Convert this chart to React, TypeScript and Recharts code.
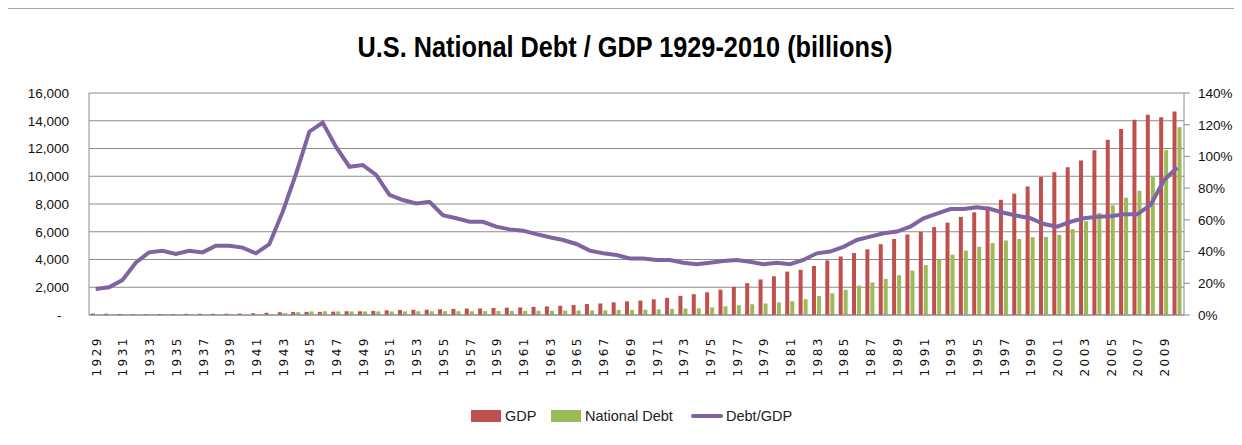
import React from "react";
import { ComposedChart, Bar, Line, XAxis, YAxis, CartesianGrid } from "recharts";

const years = [
  1929, 1930, 1931, 1932, 1933, 1934, 1935, 1936, 1937, 1938,
  1939, 1940, 1941, 1942, 1943, 1944, 1945, 1946, 1947, 1948,
  1949, 1950, 1951, 1952, 1953, 1954, 1955, 1956, 1957, 1958,
  1959, 1960, 1961, 1962, 1963, 1964, 1965, 1966, 1967, 1968,
  1969, 1970, 1971, 1972, 1973, 1974, 1975, 1976, 1977, 1978,
  1979, 1980, 1981, 1982, 1983, 1984, 1985, 1986, 1987, 1988,
  1989, 1990, 1991, 1992, 1993, 1994, 1995, 1996, 1997, 1998,
  1999, 2000, 2001, 2002, 2003, 2004, 2005, 2006, 2007, 2008,
  2009, 2010,
];

// billions
const gdp = [
  103.6, 91.2, 76.5, 58.7, 56.4, 66.0, 73.3, 83.8, 91.9, 86.1,
  92.2, 101.4, 126.7, 161.9, 198.6, 219.8, 223.0, 222.2, 244.1, 269.1,
  267.2, 293.7, 339.3, 358.3, 379.3, 380.4, 414.7, 437.4, 461.1, 467.2,
  506.6, 526.4, 544.7, 585.6, 617.7, 663.6, 719.1, 787.8, 832.6, 910.0,
  984.6, 1038.5, 1127.1, 1238.3, 1382.7, 1500.0, 1638.3, 1825.3, 2030.9, 2294.7,
  2563.3, 2789.5, 3128.4, 3255, 3537, 3933, 4220, 4463, 4740, 5104,
  5484, 5803, 5996, 6338, 6657, 7072, 7398, 7817, 8304, 8747,
  9268, 9951, 10286, 10642, 11142, 11868, 12638, 13399, 14078, 14441,
  14256, 14660,
];

const debt = [
  16.9, 16.2, 16.8, 19.5, 22.5, 27.1, 28.7, 33.8, 36.4, 37.2,
  40.4, 43.0, 49.0, 72.4, 136.7, 201.0, 258.7, 269.4, 258.3, 252.3,
  252.8, 257.4, 255.2, 259.1, 266.0, 270.8, 274.4, 272.7, 272.3, 279.7,
  287.5, 290.5, 292.6, 302.9, 310.3, 316.1, 322.3, 328.5, 340.4, 368.7,
  365.8, 380.9, 408.2, 435.9, 466.3, 483.9, 541.9, 629.0, 706.4, 776.6,
  829.5, 909.0, 994.8, 1137, 1372, 1565, 1817, 2121, 2346, 2601,
  2868, 3206, 3598, 4002, 4351, 4643, 4921, 5182, 5369, 5478,
  5606, 5629, 5770, 6198, 6760, 7355, 7905, 8451, 8951, 9986,
  11876, 13529,
];

// percent
const debtToGdp = [
  16.4, 17.5, 22, 33, 39.5, 40.5, 38.5, 40.5, 39.5, 43.7,
  43.7, 42.5, 38.9, 44.6, 65, 89, 115.6, 121.3, 106, 93.5,
  94.6, 88.3, 75.7, 72.5, 70.4, 71.4, 63, 61, 58.8, 58.8,
  55.7, 54, 53.2, 51, 49, 47.3, 44.8, 40.6, 38.9, 37.8,
  35.7, 35.7, 34.7, 34.7, 33, 32, 33, 34, 34.7, 33.6,
  32, 33, 32, 34.7, 38.9, 40, 43, 47.3, 49.4, 51.5,
  52.6, 55.7, 61, 64, 66.8, 66.8, 67.9, 66.8, 64.5, 62.6,
  61, 57.4, 55.7, 58.8, 61, 62, 62.3, 63.5, 63.5, 69.4,
  85, 93,
];

const leftTicks = [0, 2000, 4000, 6000, 8000, 10000, 12000, 14000, 16000];
const rightTicks = [0, 20, 40, 60, 80, 100, 120, 140];

const data = years.map((y, i) => ({
  year: String(y),
  gdp: gdp[i],
  debt: debt[i],
  ratio: debtToGdp[i],
}));

const RED = "#C0504D";
const GREEN = "#9BBB59";
const PURPLE = "#8064A2";
const GRID = "#8c8c8c";
const FONT = "'Liberation Sans', Arial, sans-serif";

function YearTick({ x, y, payload }: any) {
  const tx = x + 1;
  const ty = y + 21;
  return (
    <text
      x={tx}
      y={ty}
      transform={`rotate(-90, ${tx}, ${ty})`}
      textAnchor="end"
      dominantBaseline="central"
      fontFamily="'DejaVu Sans', sans-serif"
      fontSize={12}
      style={{ letterSpacing: "2.5px" }}
      fill="#111"
    >
      {payload.value}
    </text>
  );
}

export default function App() {
  return (
    <div style={{ position: "relative", width: 1242, height: 445, margin: -8, background: "#fff" }}>
      <div
        style={{
          position: "absolute",
          left: 6,
          top: 8,
          width: 1240,
          height: 440,
          borderLeft: "1.5px solid #a6a6a6",
          borderTop: "1.5px solid #a6a6a6",
        }}
      />
      <svg width={1242} height={445} style={{ position: "absolute", left: 0, top: 0 }}>
        <text
          x={625}
          y={57}
          textAnchor="middle"
          fontFamily={FONT}
          fontWeight="bold"
          fontSize={29}
          textLength={535}
          lengthAdjust="spacingAndGlyphs"
          fill="#000"
        >
          U.S. National Debt / GDP 1929-2010 (billions)
        </text>
        <g fontFamily={FONT} fontSize={14.5} fill="#222">
          <rect x={471} y={410} width={30} height={12} fill={RED} />
          <text x={505} y={421}>GDP</text>
          <rect x={551} y={410} width={30} height={12} fill={GREEN} />
          <text x={585} y={421}>National Debt</text>
          <line x1={693} y1={416} x2={721} y2={416} stroke={PURPLE} strokeWidth={4} strokeLinecap="round" />
          <text x={726} y={421}>Debt/GDP</text>
        </g>
      </svg>
      <div style={{ position: "absolute", left: 0, top: 0 }}>
        <ComposedChart
          width={1242}
          height={445}
          data={data}
          margin={{ top: 93, right: 0, left: 0, bottom: 0 }}
          barCategoryGap="14%"
          barGap={1}
        >
          <CartesianGrid vertical={false} stroke={GRID} yAxisId="left" />
          <XAxis
            dataKey="year"
            interval={1}
            height={130}
            tickSize={0}
            tickMargin={0}
            tickLine={false}
            axisLine={{ stroke: GRID }}
            tick={<YearTick />}
          />
          <YAxis
            yAxisId="left"
            orientation="left"
            width={89}
            domain={[0, 16000]}
            ticks={leftTicks}
            tickSize={5}
            tickMargin={15}
            tickLine={false}
            axisLine={{ stroke: GRID }}
            tick={{ fontFamily: FONT, fontSize: 13.5, fill: "#111" }}
            tickFormatter={(v: number) => (v === 0 ? "-\u00a0\u00a0" : v.toLocaleString("en-US"))}
          />
          <YAxis
            yAxisId="right"
            orientation="right"
            width={58}
            domain={[0, 140]}
            ticks={rightTicks}
            tickSize={6}
            tickMargin={8}
            tickLine={{ stroke: GRID }}
            axisLine={{ stroke: GRID }}
            tick={{ fontFamily: FONT, fontSize: 13.5, fill: "#111", textAnchor: "start" }}
            tickFormatter={(v: number) => `${v}%`}
          />
          <Bar yAxisId="left" dataKey="gdp" fill={RED} isAnimationActive={false} />
          <Bar yAxisId="left" dataKey="debt" fill={GREEN} isAnimationActive={false} />
          <Line
            yAxisId="right"
            dataKey="ratio"
            type="linear"
            stroke={PURPLE}
            strokeWidth={4}
            dot={false}
            activeDot={false}
            isAnimationActive={false}
          />
        </ComposedChart>
      </div>
    </div>
  );
}
